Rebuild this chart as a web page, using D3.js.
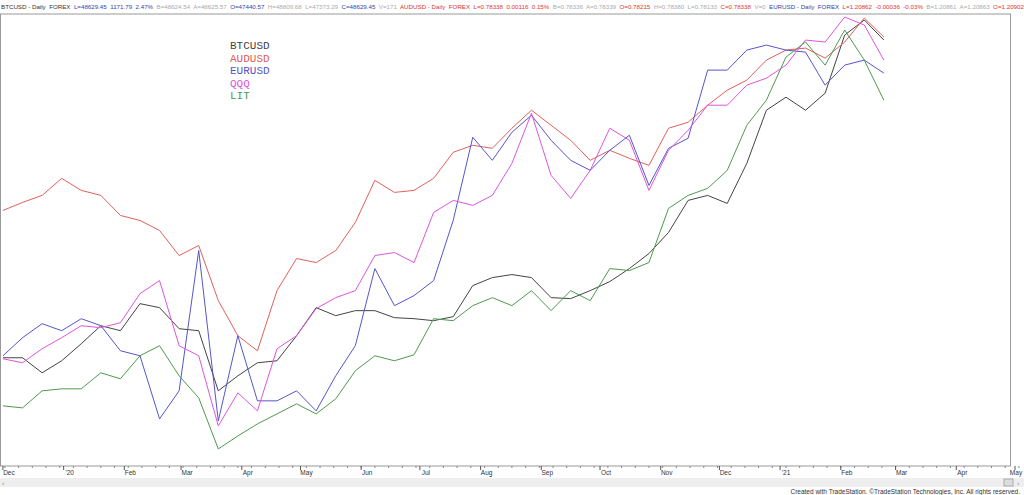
<!DOCTYPE html>
<html><head><meta charset="utf-8">
<script src="https://cdn.jsdelivr.net/npm/d3@7"></script>
<style>body{margin:0;background:#fff}svg{display:block}</style>
</head><body>
<svg id="chart" width="1024" height="495"></svg>
<script>
// sample dates (every 10 days)
var dates = ["2019-12-01","2019-12-11","2019-12-21","2019-12-31","2020-01-10","2020-01-20","2020-01-30","2020-02-09","2020-02-19","2020-02-29",
  "2020-03-10","2020-03-20","2020-03-30","2020-04-09","2020-04-19","2020-04-29","2020-05-09","2020-05-19","2020-05-29","2020-06-08",
  "2020-06-18","2020-06-28","2020-07-08","2020-07-18","2020-07-28","2020-08-07","2020-08-17","2020-08-27","2020-09-06","2020-09-16",
  "2020-09-26","2020-10-06","2020-10-16","2020-10-26","2020-11-05","2020-11-15","2020-11-25","2020-12-05","2020-12-15","2020-12-25",
  "2021-01-04","2021-01-14","2021-01-24","2021-02-03","2021-02-13","2021-02-23"];

// normalized overlay levels (screen-relative, larger = lower on chart)
var btcusd = [357,357,372,360,343,325,330,303,307,328,330,390,375,362,360,335,307,315,310,310,317,318,320,316,285,277,274,277,297,298,290,281,268,253,232,200,195,203,163,110,97,110,93,35,20,40];
var audusd = [210,202,195,178,190,195,215,220,230,255,245,300,335,350,290,258,262,250,222,180,192,190,178,152,145,148,128,110,125,140,160,150,158,165,128,122,105,90,80,60,50,48,58,42,18,37];
var eurusd = [355,337,323,330,318,325,350,355,418,390,250,420,335,400,400,390,410,375,345,268,305,295,280,220,137,160,132,115,140,160,170,150,135,185,148,138,70,70,50,45,50,52,85,65,60,73];
var qqq    = [358,362,348,337,325,327,322,293,280,345,355,425,392,410,348,335,308,297,290,255,252,262,212,200,205,195,163,113,175,198,170,128,140,190,150,130,105,105,85,78,65,40,42,17,25,60];
var lit    = [405,407,390,388,388,372,378,355,345,375,397,448,435,423,413,403,413,398,370,355,360,354,318,320,305,297,305,290,310,290,300,268,270,262,208,195,188,170,125,100,57,42,65,30,60,100];

var seriesNames = ["BTCUSD","AUDUSD","EURUSD","QQQ","LIT"];
var seriesColors = ["#444444","#e0605a","#5555cc","#dd55dd","#4f9a4f"];
var seriesData = [btcusd, audusd, eurusd, qqq, lit];
var monthLabels = ["Dec","'20","Feb","Mar","Apr","May","Jun","Jul","Aug","Sep","Oct","Nov","Dec","'21","Feb","Mar","Apr","May"];

var svg = d3.select("#chart");
var parse = d3.timeParse("%Y-%m-%d");
var plotLeft = 1, plotRight = 1010, plotTop = 14, plotBottom = 466;

var x = d3.scaleTime()
    .domain([parse("2019-11-30"), parse("2021-05-01")])
    .range([plotLeft, 1015]);
var y = d3.scaleLinear().domain([14, 465]).range([plotTop, plotBottom]);

// frame
svg.append("rect").attr("x", 0.5).attr("y", plotTop).attr("width", plotRight).attr("height", plotBottom - plotTop)
    .attr("fill", "none").attr("stroke", "#999");

// header
var hdr = svg.append("text").attr("x", 1).attr("y", 9).attr("font-family", "Arial, sans-serif").attr("font-size", 6.2);
[["BTCUSD - Daily  FOREX  ", "#333"], ["L=48629.45  1171.79  2.47%  ", "#3344aa"], ["B=48624.54  A=48625.57  ", "#aaa"],
 ["O=47440.57  ", "#3344aa"], ["H=48809.68  L=47373.29  ", "#aaa"], ["C=48629.45  ", "#3344aa"], ["V=171  ", "#aaa"],
 ["AUDUSD - Daily  FOREX  L=0.78338  0.00116  0.15%  ", "#dd3333"], ["B=0.78336  A=0.78339  ", "#aaa"], ["O=0.78215  ", "#dd3333"],
 ["H=0.78380  L=0.78133  ", "#aaa"], ["C=0.78338  ", "#dd3333"], ["V=0  ", "#aaa"],
 ["EURUSD - Daily  FOREX  ", "#3344aa"], ["L=1.20862  -0.00036  -0.03%  ", "#dd3333"], ["B=1.20861  A=1.20863  ", "#aaa"],
 ["O=1.20902  ", "#dd3333"], ["H=1.20904  L=1.20", "#aaa"]].forEach(function (s) {
    hdr.append("tspan").attr("fill", s[1]).attr("xml:space", "preserve").text(s[0]);
});

// lines
var line = d3.line()
    .x(function (d, i) { return x(parse(dates[i])); })
    .y(function (d) { return y(d); });

var g = svg.append("g");
seriesData.forEach(function (s, k) {
    g.append("path").datum(s).attr("d", line)
        .attr("fill", "none").attr("stroke", seriesColors[k]).attr("stroke-width", 1);
});

// legend
seriesNames.forEach(function (n, k) {
    svg.append("text").attr("x", 230).attr("y", 49 + k * 12.6)
        .attr("font-family", "'Liberation Mono', 'DejaVu Sans Mono', monospace").attr("font-size", 11)
        .attr("fill", seriesColors[k]).text(n);
});

// x axis
var months = d3.timeMonth.range(parse("2019-12-01"), parse("2021-05-02"));
var ax = svg.append("g").attr("transform", "translate(0," + plotBottom + ")");
ax.selectAll("line.w").data(d3.timeMonday.range(parse("2019-12-01"), parse("2021-05-08"))).enter().append("line")
    .attr("x1", function (d) { return x(d); }).attr("x2", function (d) { return x(d); })
    .attr("y1", 0).attr("y2", 2).attr("stroke", "#888");
ax.selectAll("line.m").data(months).enter().append("line")
    .attr("x1", function (d) { return x(d); }).attr("x2", function (d) { return x(d); })
    .attr("y1", 0).attr("y2", 4).attr("stroke", "#555");
ax.selectAll("text").data(months).enter().append("text")
    .attr("x", function (d) { return Math.min(x(d) + 6, 1016); }).attr("y", 9)
    .attr("text-anchor", "middle").attr("font-family", "Arial, sans-serif").attr("font-size", 6.5).attr("fill", "#333")
    .text(function (d, i) { return monthLabels[i]; });

// scrollbar
svg.append("rect").attr("x", 0).attr("y", 478).attr("width", 1024).attr("height", 9).attr("fill", "#eeeeee");
svg.append("rect").attr("x", 1004).attr("y", 479).attr("width", 9).attr("height", 7).attr("fill", "#ddd").attr("stroke", "#aaa");
svg.append("text").attr("x", 2).attr("y", 485).attr("font-size", 7).attr("fill", "#666").text("\u2039");
svg.append("text").attr("x", 1017).attr("y", 485).attr("font-size", 7).attr("fill", "#666").text("\u203a");

// credit
svg.append("text").attr("x", 1020).attr("y", 494).attr("text-anchor", "end")
    .attr("font-family", "Arial, sans-serif").attr("font-size", 6.5).attr("fill", "#333")
    .text("Created with TradeStation. \u00A9TradeStation Technologies, Inc. All rights reserved.");
</script>
</body></html>
